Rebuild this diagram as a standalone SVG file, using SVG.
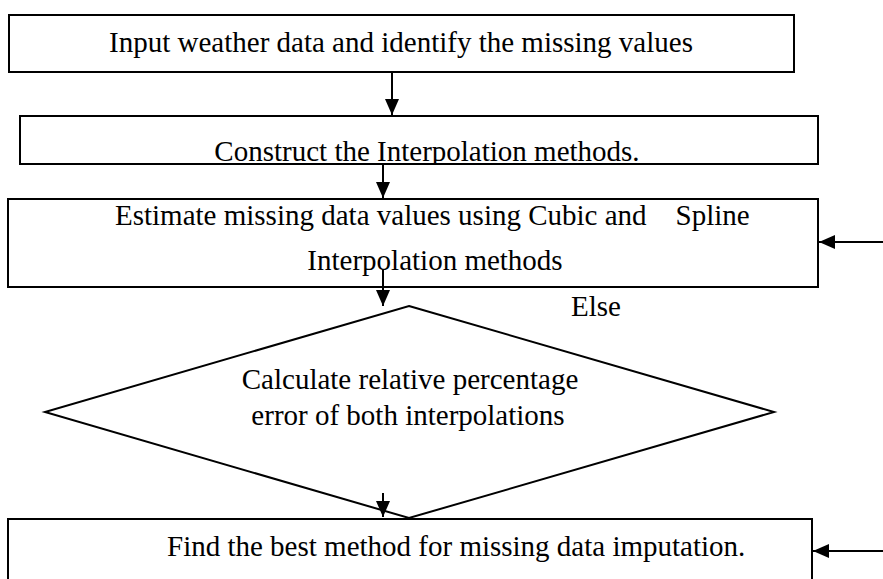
<svg xmlns="http://www.w3.org/2000/svg" width="883" height="579" viewBox="0 0 883 579">
  <style>
    .box { fill: #ffffff; stroke: #000000; stroke-width: 2; }
    .edge { fill: none; stroke: #000000; stroke-width: 2; }
    .lbl { font-family: "Liberation Serif", "Times New Roman", serif; font-size: 29px; fill: #000000; }
    .mid { text-anchor: middle; }
  </style>
  <defs>
    <marker id="arrow" viewBox="0 0 16 14" refX="16" refY="7" markerWidth="16" markerHeight="14" markerUnits="userSpaceOnUse" orient="auto">
      <path d="M0,0 L16,7 L0,14 Z" fill="#000000"/>
    </marker>
    <!-- the second box's label sits on its bottom edge; its descenders are cut there -->
    <clipPath id="box2-clip">
      <rect x="20" y="116" width="798" height="48"/>
    </clipPath>
  </defs>
  <rect width="883" height="579" fill="#ffffff"/>

  <g id="input-data">
    <rect class="box" x="9" y="15" width="785" height="57"/>
    <text class="lbl mid" x="401" y="52">Input weather data and identify the missing values</text>
  </g>

  <g id="construct-methods">
    <rect class="box" x="20" y="116" width="798" height="48"/>
    <text class="lbl mid" x="427" y="161" clip-path="url(#box2-clip)">Construct the Interpolation methods.</text>
  </g>

  <g id="estimate-values">
    <rect class="box" x="8" y="199" width="810" height="88"/>
    <text class="lbl" x="115" y="225" xml:space="preserve">Estimate missing data values using Cubic and    Spline</text>
    <text class="lbl mid" x="435" y="270">Interpolation methods</text>
  </g>

  <g id="relative-error">
    <polygon class="box" points="409,306 774,412 409,518 45,412"/>
    <text class="lbl mid" x="410" y="389">Calculate relative percentage</text>
    <text class="lbl mid" x="408" y="425">error of both interpolations</text>
    <text class="lbl" x="571" y="316">Else</text>
  </g>

  <g id="best-method">
    <rect class="box" x="8" y="519" width="804" height="70"/>
    <text class="lbl" x="167" y="556">Find the best method for missing data imputation.</text>
  </g>

  <g id="connectors">
    <line class="edge" x1="392" y1="72" x2="392" y2="115" marker-end="url(#arrow)"/>
    <line class="edge" x1="383" y1="164" x2="383" y2="198" marker-end="url(#arrow)"/>
    <line class="edge" x1="383" y1="270" x2="383" y2="306" marker-end="url(#arrow)"/>
    <line class="edge" x1="383" y1="493" x2="383" y2="517" marker-end="url(#arrow)"/>
    <line class="edge" x1="883" y1="242" x2="819" y2="242" marker-end="url(#arrow)"/>
    <line class="edge" x1="883" y1="551" x2="813" y2="551" marker-end="url(#arrow)"/>
  </g>
</svg>
